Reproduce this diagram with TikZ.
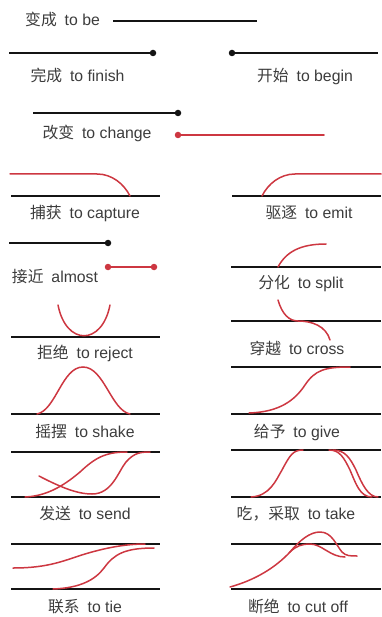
\documentclass[tikz,border=0pt]{standalone}
\usepackage{fontspec}
\setmainfont{Liberation Sans}
\newfontfamily\cjk{Noto Sans CJK SC}
\usepackage{xcolor}
\usepackage{tikz}
\usetikzlibrary{calc}
\definecolor{VerbRed}{RGB}{205,55,65}
\definecolor{VerbInk}{RGB}{20,20,20}
\definecolor{VerbText}{RGB}{60,60,60}
\newcommand{\zh}[2]{{\cjk #1}\hspace{0.5em}#2}
\tikzset{
  rail/.style={draw=VerbInk, line width=2pt},
  strand/.style={draw=VerbRed, line width=1.5pt, line cap=round},
  blackdot/.style={circle, fill=VerbInk, inner sep=0pt, minimum size=6.5pt},
  reddot/.style={circle, fill=VerbRed, inner sep=0pt, minimum size=6.5pt},
  word/.style={inner sep=0pt, anchor=base, text=VerbText,
    font=\fontsize{15.8}{18}\selectfont}
}

\begin{document}
\begin{tikzpicture}[x=1pt, y=-1pt]
  \useasboundingbox (0,0) rectangle (381,617);

  % to be
  \node[word, anchor=base west] (lbe) at (25,26) {\zh{变成}{to be}};
  \coordinate (be1) at (113,21);
  \coordinate (be2) at (257,21);
  \draw[rail] (be1) -- (be2);

  % to finish / to begin
  \coordinate (fin1) at (9,53);
  \node[blackdot] (fin2) at (153,53) {};
  \draw[rail] (fin1) -- (fin2.center);
  \node[word] (lfin) at (77.5,82) {\zh{完成}{to finish}};
  \node[blackdot] (beg1) at (232,53) {};
  \coordinate (beg2) at (378,53);
  \draw[rail] (beg1.center) -- (beg2);
  \node[word] (lbeg) at (305,82) {\zh{开始}{to begin}};

  % to change
  \coordinate (chg1) at (33,113);
  \node[blackdot] (chg2) at (178,113) {};
  \draw[rail] (chg1) -- (chg2.center);
  \node[reddot] (chg3) at (178,135) {};
  \coordinate (chg4) at (324,135);
  \draw[strand] (chg3.center) -- (chg4);
  \node[word] (lchg) at (97,139) {\zh{改变}{to change}};

  % to capture / to emit
  \coordinate (cap1) at (11,196);
  \coordinate (cap2) at (160,196);
  \draw[rail] (cap1) -- (cap2);
  \draw[strand] (10,174) -- (97,174) .. controls (112,174) and (124,184) .. (130,196);
  \node[word] (lcap) at (85,219) {\zh{捕获}{to capture}};
  \coordinate (emi1) at (232,196);
  \coordinate (emi2) at (381,196);
  \draw[rail] (emi1) -- (emi2);
  \draw[strand] (262,196) .. controls (268,184) and (280,174) .. (295,174) -- (381,174);
  \node[word] (lemi) at (309,219) {\zh{驱逐}{to emit}};

  % almost / to split
  \coordinate (alm1) at (9,243);
  \node[blackdot] (alm2) at (108,243) {};
  \draw[rail] (alm1) -- (alm2.center);
  \node[reddot] (alm3) at (108,267) {};
  \node[reddot] (alm4) at (154,267) {};
  \draw[strand] (alm3.center) -- (alm4.center);
  \node[word] (lalm) at (55,282) {\zh{接近}{almost}};
  \coordinate (spl1) at (231,267);
  \coordinate (spl2) at (381,267);
  \draw[rail] (spl1) -- (spl2);
  \draw[strand] (278,267) .. controls (286,252) and (300,244) .. (326,244);
  \node[word] (lspl) at (301,288) {\zh{分化}{to split}};

  % to reject / to cross
  \coordinate (rej1) at (11,337);
  \coordinate (rej2) at (160,337);
  \draw[rail] (rej1) -- (rej2);
  \draw[strand] (58,305) .. controls (66,346) and (102,346) .. (110,305);
  \node[word] (lrej) at (85,358) {\zh{拒绝}{to reject}};
  \coordinate (crs1) at (231,321);
  \coordinate (crs2) at (381,321);
  \draw[rail] (crs1) -- (crs2);
  \draw[strand] (278,300) .. controls (282,314) and (289,321) .. (298,321)
    .. controls (312,321) and (326,326) .. (330,340);
  \node[word] (lcrs) at (297,354) {\zh{穿越}{to cross}};

  % to shake / to give
  \coordinate (shk1) at (11,414);
  \coordinate (shk2) at (160,414);
  \draw[rail] (shk1) -- (shk2);
  \draw[strand] (37,414) .. controls (56,410) and (62,367) .. (83,367)
    .. controls (104,367) and (111,410) .. (130,414);
  \node[word] (lshk) at (85,437) {\zh{摇摆}{to shake}};
  \coordinate (giv1) at (231,367);
  \coordinate (giv2) at (381,367);
  \coordinate (giv3) at (231,414);
  \coordinate (giv4) at (381,414);
  \draw[rail] (giv1) -- (giv2);
  \draw[rail] (giv3) -- (giv4);
  \draw[strand] (249,413) .. controls (280,412) and (295,400) .. (305,385)
    .. controls (315,370) and (325,367) .. (350,367);
  \node[word] (lgiv) at (297,437) {\zh{给予}{to give}};

  % to send / to take
  \coordinate (snd1) at (11,452);
  \coordinate (snd2) at (160,452);
  \coordinate (snd3) at (11,497);
  \coordinate (snd4) at (160,497);
  \draw[rail] (snd1) -- (snd2);
  \draw[rail] (snd3) -- (snd4);
  \draw[strand] (25,497) .. controls (50,496) and (68,482) .. (80,472)
    .. controls (95,458) and (105,452) .. (127,452);
  \draw[strand] (39,476) .. controls (62,488) and (78,494) .. (92,494)
    .. controls (112,494) and (118,472) .. (126,462)
    .. controls (134,453) and (140,452) .. (150,452);
  \node[word] (lsnd) at (85,519) {\zh{发送}{to send}};
  \coordinate (tak1) at (231,450);
  \coordinate (tak2) at (381,450);
  \coordinate (tak3) at (231,497);
  \coordinate (tak4) at (381,497);
  \draw[rail] (tak1) -- (tak2);
  \draw[rail] (tak3) -- (tak4);
  \draw[strand] (251,497) .. controls (270,496) and (276,480) .. (282,470)
    .. controls (290,455) and (293,450) .. (303,450);
  \draw[strand] (329,450) .. controls (340,450) and (344,458) .. (350,470)
    .. controls (356,484) and (360,497) .. (372,497);
  \draw[strand] (333,450) .. controls (345,450) and (350,458) .. (356,470)
    .. controls (362,484) and (368,497) .. (378,497);
  \node[word] (ltak) at (296,519) {\zh{吃，采取}{to take}};

  % to tie / to cut off
  \coordinate (tie1) at (11,544);
  \coordinate (tie2) at (160,544);
  \coordinate (tie3) at (11,589);
  \coordinate (tie4) at (160,589);
  \draw[rail] (tie1) -- (tie2);
  \draw[rail] (tie3) -- (tie4);
  \draw[strand] (13,568) .. controls (50,568) and (65,560) .. (85,554)
    .. controls (105,548) and (125,544) .. (145,544);
  \draw[strand] (53,589) .. controls (80,588) and (95,580) .. (104,568)
    .. controls (114,554) and (125,548) .. (154,548);
  \node[word] (ltie) at (85,612) {\zh{联系}{to tie}};
  \coordinate (cut1) at (231,544);
  \coordinate (cut2) at (381,544);
  \coordinate (cut3) at (231,589);
  \coordinate (cut4) at (381,589);
  \draw[rail] (cut1) -- (cut2);
  \draw[rail] (cut3) -- (cut4);
  \draw[strand] (230,587) .. controls (255,580) and (275,568) .. (290,552)
    .. controls (296,546) and (302,544) .. (310,544)
    .. controls (322,544) and (330,557) .. (345,557);
  \draw[strand] (290,552) .. controls (300,540) and (310,532) .. (320,532)
    .. controls (332,532) and (336,545) .. (342,552)
    .. controls (346,556) and (350,556) .. (357,556);
  \node[word] (lcut) at (298,612) {\zh{断绝}{to cut off}};
\end{tikzpicture}
\end{document}
